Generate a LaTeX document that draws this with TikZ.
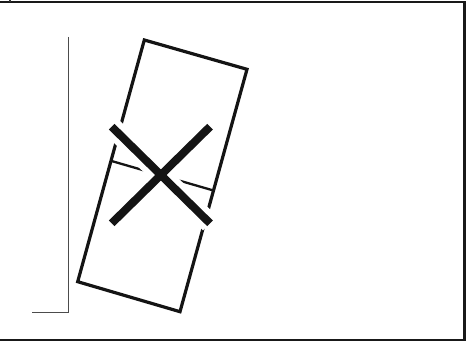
\documentclass[tikz,border=0pt]{standalone}
\usetikzlibrary{calc}
\begin{document}
\begin{tikzpicture}[x=1pt,y=-1pt,
  framestyle/.style={line width=2.3pt,color=black!90},
  thinline/.style={line width=1pt,color=black!70},
  boxline/.style={line width=3.2pt,color=black!92,line join=miter},
  midline/.style={line width=2.3pt,color=black!92,line cap=butt},
  halo/.style={line width=20pt,white,line cap=butt},
  crossarm/.style={line width=8pt,color=black!92,line cap=butt}]
\useasboundingbox (0,0) rectangle (474,342);
% frame
\coordinate (F1) at (-2,2);
\coordinate (F2) at (464.5,2);
\coordinate (F3) at (464.5,340);
\coordinate (F4) at (-2,340);
\draw[framestyle] (F1) -- (F2) -- (F3) -- (F4);
\coordinate (T1) at (10,0);
\coordinate (T2) at (10,2);
\draw[line width=1.2pt,black!80] (T1) -- (T2);
% thin bracket
\coordinate (V1) at (68,37);
\coordinate (V2) at (68,312);
\coordinate (V3) at (32,312);
\draw[thinline] (V1) -- (V2) -- (V3);
% tilted rectangle
\coordinate (TL) at (144.3,40);
\coordinate (TR) at (247,69.3);
\coordinate (BR) at (180,311.7);
\coordinate (BL) at (77.7,281.7);
\draw[boxline] (TL) -- (TR) -- (BR) -- (BL) -- cycle;
\coordinate (ML) at ($(TL)!0.5!(BL)$);
\coordinate (MR) at ($(TR)!0.5!(BR)$);
\draw[midline] (ML) -- (MR);
% cross
\coordinate (A1) at (111.7,126.7);
\coordinate (A2) at (210,223.3);
\coordinate (B1) at (210,126.7);
\coordinate (B2) at (111.7,223.3);
\draw[halo] (A1) -- (A2);
\draw[halo] (B1) -- (B2);
\draw[crossarm] (A1) -- (A2);
\draw[crossarm] (B1) -- (B2);
\end{tikzpicture}
\end{document}
